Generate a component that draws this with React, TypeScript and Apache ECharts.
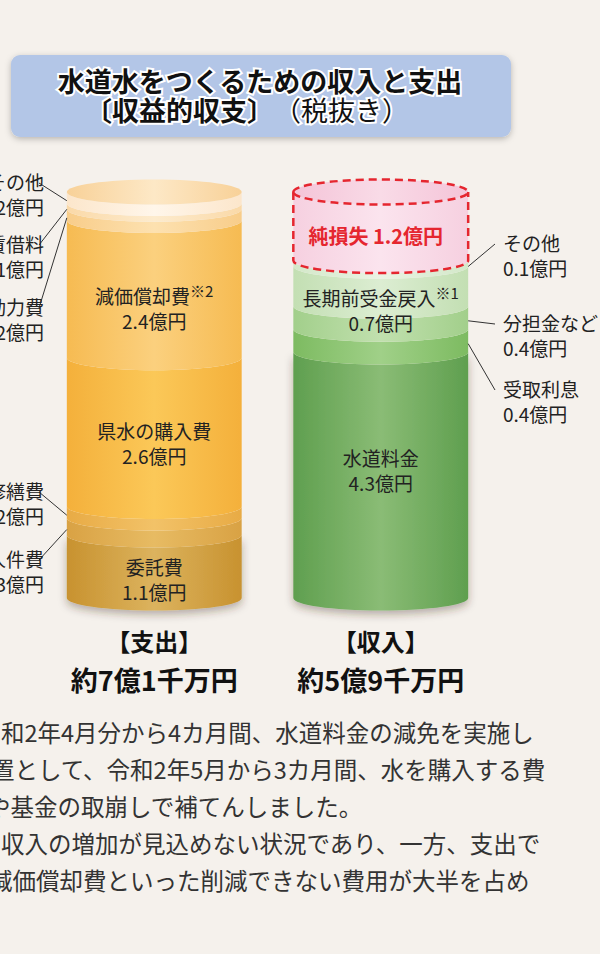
import React, { useEffect, useRef } from "react";
import * as echarts from "echarts";

// ---------- data ----------
const columns = ["支出", "収入"];

const expenseNames = ["委託費", "人件費", "修繕費", "県水の購入費", "減価償却費", "動力費", "賃借料", "その他"];
const expenseValues = [1.1, 0.3, 0.2, 2.6, 2.4, 0.2, 0.1, 0.2];
const expenseNotes = ["", "", "", "", "※2", "", "", ""];

const incomeNames = ["水道料金", "受取利息", "分担金など", "長期前受金戻入", "その他", "純損失"];
const incomeValues = [4.3, 0.4, 0.4, 0.7, 0.1, 1.2];
const incomeNotes = ["", "", "", "※1", "", ""];
const incomeIsLoss = [false, false, false, false, false, true];

const titleLine1 = "水道水をつくるための収入と支出";
const titleLine2a = "〔収益的収支〕";
const titleLine2b = "（税抜き）";

const bodyLines = [
  "和2年4月分から4カ月間、水道料金の減免を実施し",
  "置として、令和2年5月から3カ月間、水を購入する費",
  "や基金の取崩しで補てんしました。",
  "収入の増加が見込めない状況であり、一方、支出で",
  "減価償却費といった削減できない費用が大半を占め",
];

// ---------- styles ----------
type SegStyle = { edge: string; mid: string; label: "in" | "left" | "right" | "loss"; dy?: number; ly?: number };

const expenseStyles: SegStyle[] = [
  { edge: "#c8922f", mid: "#dcb35e", label: "in", dy: 0 },
  { edge: "#d9a244", mid: "#e7bb63", label: "left", ly: 558 },
  { edge: "#e8ab45", mid: "#f2c268", label: "left", ly: 490 },
  { edge: "#f4b03b", mid: "#fbc858", label: "in", dy: -2 },
  { edge: "#f6bb52", mid: "#fbd07e", label: "in", dy: 6 },
  { edge: "#f8cd8a", mid: "#fde1b0", label: "left", ly: 306 },
  { edge: "#fad9a8", mid: "#fdebcd", label: "left", ly: 243 },
  { edge: "#fce6cb", mid: "#fff6ea", label: "left", ly: 181 },
];
const expenseCap = { edge: "#f8d198", mid: "#fde8c6" };

const incomeStyles: SegStyle[] = [
  { edge: "#5f9f4f", mid: "#8abc75", label: "in", dy: -18 },
  { edge: "#7dbb61", mid: "#a0d088", label: "right", ly: 388 },
  { edge: "#a2cf8b", mid: "#c1e0ae", label: "right", ly: 322 },
  { edge: "#c3dfb3", mid: "#dcedd2", label: "in", dy: 11 },
  { edge: "#d3e8c9", mid: "#eaf4e4", label: "right", ly: 242 },
  { edge: "#f6d0e0", mid: "#fbe4ee", label: "loss", dy: -3 },
];
const incomeCap = { edge: "#f4c4d8", mid: "#f9dbe7" };

const FONT = '"Noto Sans CJK JP", "Noto Sans", sans-serif';
const LABEL_SIZE = 19;
const LABEL_LH = 25;
const RY = 12.5;
const WIDTH_RATIO = 0.772;
const LEFT_LABEL_X = 44;
const RIGHT_LABEL_X = 503;
const LOSS_COLOR = "#e5262f";
const K = 0.5523;

function segPath(L: number, R: number, y0: number, y1: number, ry: number) {
  const cx = (L + R) / 2;
  const rx = (R - L) / 2;
  return (
    `M ${L} ${y1} C ${L} ${y1 + K * ry} ${cx - K * rx} ${y1 + ry} ${cx} ${y1 + ry} ` +
    `C ${cx + K * rx} ${y1 + ry} ${R} ${y1 + K * ry} ${R} ${y1} ` +
    `L ${R} ${y0} C ${R} ${y0 + K * ry} ${cx + K * rx} ${y0 + ry} ${cx} ${y0 + ry} ` +
    `C ${cx - K * rx} ${y0 + ry} ${L} ${y0 + K * ry} ${L} ${y0} Z`
  );
}

function outlinePath(L: number, R: number, y0: number, y1: number, ry: number) {
  const cx = (L + R) / 2;
  const rx = (R - L) / 2;
  return (
    `M ${L} ${y1} L ${L} ${y0} C ${L} ${y0 + K * ry} ${cx - K * rx} ${y0 + ry} ${cx} ${y0 + ry} ` +
    `C ${cx + K * rx} ${y0 + ry} ${R} ${y0 + K * ry} ${R} ${y0} L ${R} ${y1}`
  );
}

function hGrad(edge: string, mid: string) {
  return new echarts.graphic.LinearGradient(0, 0, 1, 0, [
    { offset: 0, color: edge },
    { offset: 0.5, color: mid },
    { offset: 1, color: edge },
  ]);
}

function buildData(ci: number, values: number[]) {
  const out: number[][] = [];
  let acc = 0;
  values.forEach((v, i) => {
    out.push([ci, acc, acc + v, i]);
    acc += v;
  });
  return out;
}

function makeRender(
  names: string[],
  values: number[],
  notes: string[],
  styles: SegStyle[],
  cap: { edge: string; mid: string }
) {
  return (params: any, api: any) => {
    const ci = api.value(0);
    const v0 = api.value(1);
    const v1 = api.value(2);
    const idx = api.value(3);
    const pb = api.coord([ci, v0]);
    const pt = api.coord([ci, v1]);
    const bw = api.size([1, 0])[0] * WIDTH_RATIO;
    const cx = pb[0];
    const L = cx - bw / 2;
    const R = cx + bw / 2;
    const y0 = pb[1];
    const y1 = pt[1];
    const st = styles[idx];
    const isTop = idx === values.length - 1;
    const isBottom = idx === 0;
    const valText = `${values[idx].toFixed(1)}億円`;
    const children: any[] = [];

    const segStyle: any = { fill: hGrad(st.edge, st.mid) };
    if (isBottom) {
      segStyle.shadowBlur = 8;
      segStyle.shadowColor = "rgba(60,40,20,0.35)";
      segStyle.shadowOffsetY = 4;
    }
    children.push({ type: "path", shape: { pathData: segPath(L, R, y0, y1, RY) }, style: segStyle });

    if (isTop) {
      children.push({
        type: "ellipse",
        shape: { cx, cy: y1, rx: bw / 2, ry: RY },
        style: { fill: hGrad(cap.edge, cap.mid) },
      });
    }

    const midFront = (y0 + y1) / 2 + RY + (st.dy || 0);

    if (st.label === "loss") {
      const dash = { stroke: LOSS_COLOR, lineWidth: 2.5, lineDash: [8, 5], fill: "none" };
      children.push({ type: "path", shape: { pathData: outlinePath(L, R, y0, y1, RY) }, style: { ...dash } });
      children.push({ type: "ellipse", shape: { cx, cy: y1, rx: bw / 2, ry: RY }, style: { ...dash } });
      children.push({
        type: "text",
        style: {
          text: `${names[idx]} ${valText}`,
          x: cx - 5,
          y: midFront,
          align: "center",
          verticalAlign: "middle",
          fill: LOSS_COLOR,
          fontSize: 20,
          fontWeight: "bold",
          fontFamily: FONT,
        },
      });
    } else if (st.label === "in") {
      const note = notes[idx] ? `{s|${notes[idx]}}` : "";
      children.push({
        type: "text",
        style: {
          text: `{n|${names[idx]}}${note}\n{n|${valText}}`,
          x: cx,
          y: midFront,
          align: "center",
          verticalAlign: "middle",
          rich: {
            n: { fontSize: LABEL_SIZE, lineHeight: LABEL_LH, fill: "#222", fontFamily: FONT },
            s: { fontSize: 15, lineHeight: LABEL_LH, fill: "#222", fontFamily: FONT, verticalAlign: "top", padding: [0, 0, 6, 0] },
          },
        },
      });
    } else {
      const left = st.label === "left";
      const ly = st.ly as number;
      const sideY = (y0 + y1) / 2 + 3;
      children.push({
        type: "line",
        shape: left
          ? { x1: L, y1: sideY, x2: LEFT_LABEL_X - 5, y2: ly + 2 }
          : { x1: R, y1: sideY, x2: RIGHT_LABEL_X - 8, y2: ly + 2 },
        style: { stroke: "#333", lineWidth: 1 },
      });
      children.push({
        type: "text",
        style: {
          text: `${names[idx]}\n${valText}`,
          x: left ? LEFT_LABEL_X : RIGHT_LABEL_X,
          y: ly - LABEL_LH / 2,
          align: left ? "right" : "left",
          verticalAlign: "top",
          lineHeight: LABEL_LH,
          fontSize: LABEL_SIZE,
          fill: "#222",
          fontFamily: FONT,
        },
      });
    }
    return { type: "group", children };
  };
}

function totalText(values: number[], skip: boolean[]) {
  const s = Math.round(values.reduce((a, b, i) => a + (skip[i] ? 0 : b), 0) * 10) / 10;
  const oku = Math.floor(s);
  const sen = Math.round((s - oku) * 10);
  return `約${oku}億${sen}千万円`;
}

export default function App() {
  const ref = useRef<HTMLDivElement>(null);

  useEffect(() => {
    document.body.style.margin = "0";
    if (!ref.current) return;
    const chart = echarts.init(ref.current, undefined, { renderer: "svg" });
    const totals = [
      totalText(expenseValues, expenseValues.map(() => false)),
      totalText(incomeValues, incomeIsLoss),
    ];
    const maxV = Math.max(
      expenseValues.reduce((a, b) => a + b, 0),
      incomeValues.reduce((a, b) => a + b, 0)
    );

    const option: any = {
      animation: false,
      backgroundColor: "#f5f1ec",
      grid: { left: 41, top: 192, width: 453, height: 406 },
      xAxis: {
        type: "category",
        data: columns,
        axisLine: { show: false },
        axisTick: { show: false },
        splitLine: { show: false },
        axisLabel: {
          margin: 23,
          formatter: (v: string, i: number) => `{h|【${v}】}\n{t|${totals[i]}}`,
          rich: {
            h: { fontSize: 24, fontWeight: "bold", lineHeight: 39, color: "#111", fontFamily: FONT },
            t: { fontSize: 27, fontWeight: "bold", lineHeight: 39, color: "#111", fontFamily: FONT },
          },
        },
      },
      yAxis: { type: "value", min: 0, max: maxV, show: false },
      series: [
        {
          type: "custom",
          clip: false,
          encode: { x: 0, y: [1, 2] },
          data: buildData(0, expenseValues),
          renderItem: makeRender(expenseNames, expenseValues, expenseNotes, expenseStyles, expenseCap),
        },
        {
          type: "custom",
          clip: false,
          encode: { x: 0, y: [1, 2] },
          data: buildData(1, incomeValues),
          renderItem: makeRender(incomeNames, incomeValues, incomeNotes, incomeStyles, incomeCap),
        },
      ],
      graphic: [
        {
          type: "rect",
          shape: { x: 11, y: 55, width: 500, height: 82, r: 9 },
          style: { fill: "#b3c6e7", shadowBlur: 6, shadowColor: "rgba(0,0,0,0.25)", shadowOffsetY: 2 },
        },
        {
          type: "text",
          x: 260,
          y: 80,
          style: {
            text: titleLine1,
            align: "center",
            verticalAlign: "middle",
            fontSize: 27,
            lineHeight: 27,
            fontWeight: "bold",
            fontFamily: FONT,
            fill: "#111",
            stroke: "#fff",
            lineWidth: 4,
          },
        },
        {
          type: "text",
          x: 247,
          y: 109,
          style: {
            text: `{b|${titleLine2a}}{n|${titleLine2b}}`,
            align: "center",
            verticalAlign: "middle",
            rich: {
              b: { fontSize: 27, lineHeight: 27, fontWeight: "bold", fontFamily: FONT, fill: "#111", stroke: "#fff", lineWidth: 4 },
              n: { fontSize: 27, lineHeight: 27, fontFamily: FONT, fill: "#111", stroke: "#fff", lineWidth: 4 },
            },
          },
        },
        ...bodyLines.map((t, i) => ({
          type: "text",
          x: [1, -9, -13, 1, -11][i],
          y: 732 + i * 37,
          style: {
            text: t,
            align: "left",
            verticalAlign: "middle",
            fontSize: 23.5,
            fontFamily: FONT,
            fill: "#333",
          },
        })),
      ],
    };
    chart.setOption(option);
    return () => chart.dispose();
  }, []);

  return <div ref={ref} style={{ width: 600, height: 954 }} />;
}
